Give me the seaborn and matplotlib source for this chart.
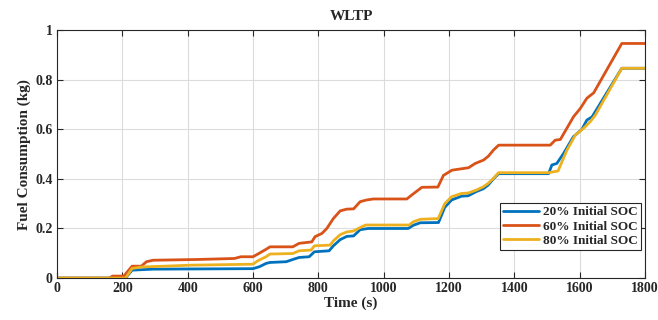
import matplotlib
matplotlib.use("Agg")
import matplotlib.pyplot as plt
import seaborn as sns
import pandas as pd

# ---- data ----
t_20 = [0, 210, 230, 294, 600, 620, 640, 652, 702, 722, 741, 772, 788, 833, 846, 867, 887, 908, 928, 952,
        1075, 1091, 1112, 1168, 1187, 1208, 1238, 1259, 1284, 1305, 1320, 1336, 1352, 1505, 1515, 1530,
        1551, 1581, 1607, 1622, 1638, 1729, 1800]
v_20 = [0, 0, 0.032, 0.036, 0.038, 0.046, 0.059, 0.063, 0.066, 0.075, 0.083, 0.086, 0.106, 0.11, 0.13,
        0.155, 0.168, 0.17, 0.195, 0.2, 0.2, 0.213, 0.223, 0.224, 0.285, 0.315, 0.33, 0.332, 0.349, 0.36,
        0.375, 0.4, 0.421, 0.421, 0.456, 0.462, 0.503, 0.57, 0.6, 0.637, 0.65, 0.846, 0.846]

t_60 = [0, 160, 170, 205, 212, 230, 258, 274, 294, 430, 543, 563, 600, 615, 640, 652, 722, 741, 754, 780,
        790, 811, 826, 846, 867, 887, 908, 928, 948, 969, 1071, 1086, 1117, 1166, 1183, 1209, 1260, 1280,
        1306, 1321, 1336, 1352, 1510, 1525, 1541, 1581, 1602, 1622, 1643, 1729, 1800]
v_60 = [0, 0, 0.008, 0.008, 0.02, 0.048, 0.048, 0.066, 0.072, 0.075, 0.079, 0.086, 0.086, 0.097, 0.116,
        0.126, 0.126, 0.14, 0.142, 0.146, 0.167, 0.18, 0.2, 0.24, 0.271, 0.278, 0.279, 0.308, 0.315, 0.319,
        0.319, 0.335, 0.366, 0.367, 0.414, 0.435, 0.445, 0.462, 0.476, 0.492, 0.516, 0.536, 0.536, 0.556,
        0.559, 0.65, 0.684, 0.725, 0.747, 0.946, 0.946]

t_80 = [0, 210, 230, 260, 330, 408, 600, 615, 640, 652, 722, 741, 778, 788, 836, 846, 867, 887, 908, 927,
        945, 1078, 1091, 1112, 1167, 1187, 1208, 1238, 1259, 1284, 1305, 1320, 1336, 1352, 1505, 1534,
        1561, 1587, 1612, 1632, 1648, 1729, 1800]
v_80 = [0, 0, 0.039, 0.045, 0.048, 0.052, 0.056, 0.07, 0.086, 0.097, 0.099, 0.11, 0.113, 0.13, 0.133,
        0.15, 0.175, 0.186, 0.19, 0.203, 0.214, 0.214, 0.227, 0.237, 0.24, 0.3, 0.328, 0.341, 0.343, 0.355,
        0.368, 0.382, 0.402, 0.425, 0.425, 0.432, 0.516, 0.577, 0.604, 0.63, 0.657, 0.846, 0.846]

labels = ["20% Initial SOC", "60% Initial SOC", "80% Initial SOC"]
colors = ["#0072BD", "#D95319", "#EDB120"]
x_ticks = [0, 200, 400, 600, 800, 1000, 1200, 1400, 1600, 1800]
y_ticks = [0, 0.2, 0.4, 0.6, 0.8, 1]
y_tick_labels = ["0", "0.2", "0.4", "0.6", "0.8", "1"]

# ---- style ----
sns.set_theme(style="whitegrid")
plt.rcParams["font.family"] = ["Liberation Serif", "DejaVu Serif"]
plt.rcParams["font.weight"] = "bold"

fig = plt.figure(figsize=(6.58, 3.2), dpi=100)
ax = fig.add_axes([0.0866, 0.131, 0.8936, 0.775])

series = [(t_20, v_20), (t_60, v_60), (t_80, v_80)]
for (t, v), lab, col in zip(series, labels, colors):
    df = pd.DataFrame({"t": t, "v": v})
    sns.lineplot(data=df, x="t", y="v", ax=ax, color=col, linewidth=2.0, label=lab,
                 estimator=None, sort=False)

ax.set_xlim(0, 1800)
ax.set_ylim(0, 1)
ax.set_xticks(x_ticks)
ax.set_xticklabels([str(x) for x in x_ticks], fontsize=10, fontweight="bold")
ax.set_yticks(y_ticks)
ax.set_yticklabels(y_tick_labels, fontsize=10, fontweight="bold")
ax.set_xlabel("Time (s)", fontsize=11, fontweight="bold", labelpad=1)
ax.set_ylabel("Fuel Consumption (kg)", fontsize=11, fontweight="bold", labelpad=3)
ax.set_title("WLTP", fontsize=11, fontweight="bold", pad=7)

ax.set_facecolor("white")
ax.grid(True, color="#dcdcdc", linewidth=0.8)
for s in ax.spines.values():
    s.set_visible(True)
    s.set_color("#262626")
    s.set_linewidth(0.8)
ax.tick_params(axis="both", which="both", direction="in", length=4, width=0.8,
               top=True, right=True, bottom=True, left=True, colors="#262626",
               labelcolor="#262626", pad=3)

leg = ax.legend(loc="lower right", bbox_to_anchor=(0.993, 0.113), frameon=True, fancybox=False,
                framealpha=1, edgecolor="#262626", fontsize=9.5, handlelength=2.7,
                borderpad=0.25, labelspacing=0.15, handletextpad=0.3, borderaxespad=0)
leg.get_frame().set_linewidth(0.8)
for txt in leg.get_texts():
    txt.set_fontweight("bold")
for line in leg.get_lines():
    line.set_linewidth(2.0)

fig.savefig("out.png", dpi=100)
